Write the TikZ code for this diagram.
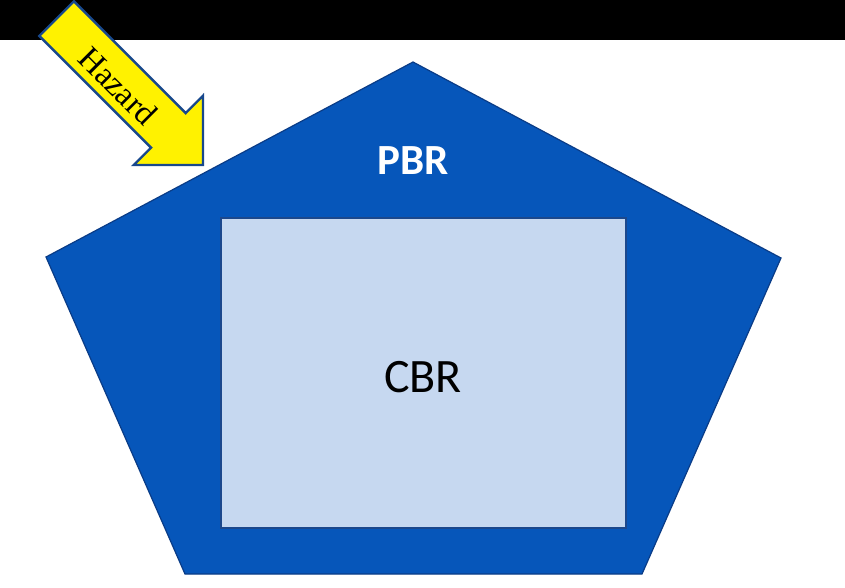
\documentclass[tikz,border=0pt]{standalone}
\usepackage{fontspec}
\setmainfont{Carlito}
\newfontfamily\hazardfont{Liberation Serif}
\usepackage{xcolor}
\usetikzlibrary{calc}

\definecolor{pbrblue}{RGB}{6,86,186}
\definecolor{pbrline}{RGB}{10,60,135}
\definecolor{cbrfill}{RGB}{198,216,240}
\definecolor{cbrline}{RGB}{28,72,140}
\definecolor{hazline}{RGB}{24,72,140}

\begin{document}
\begin{tikzpicture}[
    x=1pt, y=-1pt,
    pent/.style={draw=pbrline, fill=pbrblue, line width=1.2pt, line join=miter},
    cbrbox/.style={draw=cbrline, fill=cbrfill, line width=1.5pt},
    hazarrow/.style={draw=hazline, fill=yellow, line width=2.4pt, line join=miter},
    pbrlabel/.style={text=white, font=\bfseries\fontsize{43}{50}\selectfont},
    cbrlabel/.style={text=black, font=\fontsize{48}{56}\selectfont},
    hazlabel/.style={text=black, rotate=-45, inner sep=0pt, font=\hazardfont\fontsize{33}{36}\selectfont}
]
    \useasboundingbox (0,0) rectangle (845,588);
    \fill [white] (0,0) rectangle (845,588);

    % top band
    \fill [black] (0,0) rectangle (845,40);

    % outer region and inner region
    \draw [pent] (413,62) -- (781,258) -- (642,574) -- (185,574) -- (46,257) -- cycle;
    \draw [cbrbox] (221,218) rectangle (626,528);

    \node [pbrlabel] (pbr) at (413,161) {PBR};
    \node [cbrlabel] (cbr) at (423,377) {CBR};

    % hazard arrow
    \draw [hazarrow] (203,165) -- (203,95.7) -- (185.7,113.1) -- (73.9,1.3)
        -- (39.3,35.9) -- (151.1,147.7) -- (133.8,165) -- cycle;
    \node [hazlabel] (hazard) at (118,86) {Hazard};
\end{tikzpicture}
\end{document}
